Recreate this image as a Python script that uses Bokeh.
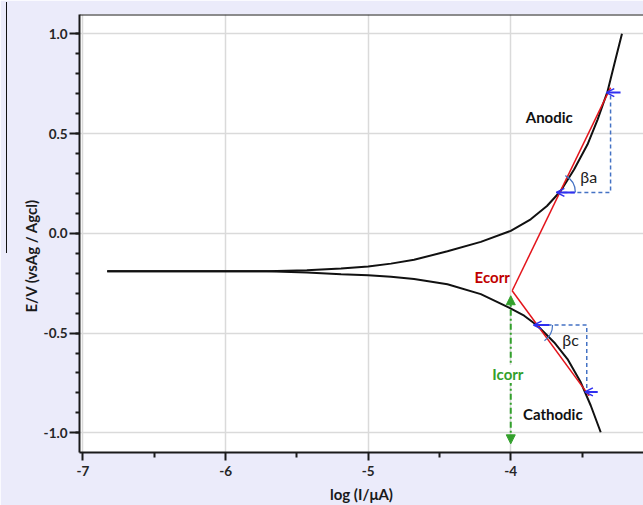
import math
from bokeh.plotting import figure
from bokeh.models import (Range1d, FixedTicker, Span, Label, Arrow, NormalHead,
                          OpenHead, Title, CustomJSTickFormatter, InlineStyleSheet)
from bokeh.embed import file_html
from bokeh.resources import INLINE

# Polarisation curve, E vs log(I)
anodic_logi = [-6.83, -6.25, -5.71, -5.43, -5.19, -5.0, -4.84, -4.678, -4.444, -4.21,
               -4.0, -3.86, -3.746, -3.65, -3.556, -3.462, -3.391, -3.321, -3.266, -3.22]
anodic_e = [-0.19, -0.19, -0.19, -0.185, -0.177, -0.166, -0.152, -0.133, -0.09, -0.043,
            0.012, 0.07, 0.137, 0.212, 0.32, 0.445, 0.57, 0.712, 0.87, 1.0]
cathodic_logi = [-6.83, -6.25, -5.71, -5.43, -5.19, -5.0, -4.84, -4.678, -4.444, -4.21,
                 -4.012, -3.906, -3.812, -3.695, -3.602, -3.509, -3.439, -3.369]
cathodic_e = [-0.19, -0.19, -0.19, -0.197, -0.205, -0.21, -0.218, -0.229, -0.255, -0.305,
              -0.372, -0.413, -0.463, -0.547, -0.63, -0.747, -0.863, -0.997]

# Tafel extrapolation
ecorr = (-3.99, -0.288)
tafel_a_end = (-3.30, 0.73)
tafel_c_end = (-3.45, -0.815)

# Slope construction boxes
beta_a_box = dict(x0=-3.68, x1=-3.30, y0=0.205, y1=0.705)
beta_c_box = dict(x0=-3.84, x1=-3.467, y0=-0.46, y1=-0.795)

icorr_x = -4.0
icorr_y = (-0.313, -1.055)

x_ticks = [-7, -6, -5, -4, -3]
x_minor = [-6.5, -5.5, -4.5, -3.5]
y_ticks = [-1.0, -0.5, 0.0, 0.5, 1.0]
y_minor = [round(-1.0 + 0.1 * i, 1) for i in range(21)]

FONT = "Lato"
BG = "#EBEBFA"
INK = "#1a1a1a"
RED = "#E3141B"
BLUE = "#2F2FF0"
DASHBLUE = "#4472C4"
GREEN = "#33A02C"

# thin dark rule along the page's left edge
edge_rule = InlineStyleSheet(css="""
:host::before {
  content: ""; position: absolute; left: 6px; top: 2px;
  width: 1px; height: 251px; background: #111111; z-index: 10;
}
""")

p = figure(width=643, height=505, output_backend="svg", toolbar_location=None,
           x_range=Range1d(-7.0245, -3.069), y_range=Range1d(-1.0985, 1.0965),
           min_border_left=79, min_border_right=0, min_border_top=14,
           min_border_bottom=52, stylesheets=[edge_rule])
p.border_fill_color = BG
p.background_fill_color = "white"
p.outline_line_color = None

p.xaxis.ticker = FixedTicker(ticks=x_ticks, minor_ticks=x_minor)
p.yaxis.ticker = FixedTicker(ticks=y_ticks, minor_ticks=y_minor)
p.yaxis.formatter = CustomJSTickFormatter(code="return tick.toFixed(1);")
p.xaxis.formatter = CustomJSTickFormatter(code="return tick.toFixed(0);")

for ax in (p.xaxis[0], p.yaxis[0]):
    ax.axis_line_color = INK
    ax.axis_line_width = 2
    ax.major_tick_line_color = INK
    ax.minor_tick_line_color = INK
    ax.major_tick_line_width = 2
    ax.minor_tick_line_width = 2
    ax.major_tick_in = 0
    ax.minor_tick_in = 0
    ax.major_label_text_font = FONT
    ax.major_label_text_font_style = "bold"
    ax.major_label_text_font_size = "13.5px"
    ax.major_label_text_color = "#262626"
    ax.axis_label_text_font = FONT
    ax.axis_label_text_font_style = "bold"
    ax.axis_label_text_font_size = "15px"
    ax.axis_label_text_color = INK

p.xaxis.major_tick_out = 8
p.xaxis.minor_tick_out = 5
p.xaxis.major_label_standoff = 5
p.xaxis.axis_label = "log (I/μA)"
p.xaxis.axis_label_standoff = 6

p.yaxis.major_tick_out = 10
p.yaxis.minor_tick_out = 4
p.yaxis.major_label_standoff = 2
p.yaxis.major_label_text_baseline = "alphabetic"

# y axis title as a side title, anchored from the frame bottom
p.add_layout(Title(text="E/V (vsAg / Agcl)", align="left", offset=140, standoff=1,
                   text_font=FONT, text_font_style="bold", text_font_size="15px",
                   text_color=INK), "left")

p.xgrid.ticker = FixedTicker(ticks=x_ticks)
p.ygrid.ticker = FixedTicker(ticks=y_ticks)
p.grid.grid_line_color = "#DADADA"
p.grid.grid_line_width = 1.5

# top frame edge
p.add_layout(Span(location=1.0965, dimension="width", line_color=INK, line_width=2))

# curves
p.line(anodic_logi, anodic_e, line_color="#111111", line_width=2)
p.line(cathodic_logi, cathodic_e, line_color="#111111", line_width=2)

# Tafel lines
p.line([ecorr[0], tafel_a_end[0]], [ecorr[1], tafel_a_end[1]], line_color=RED, line_width=1.5)
p.line([ecorr[0], tafel_c_end[0]], [ecorr[1], tafel_c_end[1]], line_color=RED, line_width=1.5)

# dashed slope boxes
for b in (beta_a_box, beta_c_box):
    p.line([b["x0"], b["x1"], b["x1"]], [b["y0"], b["y0"], b["y1"]],
           line_color=DASHBLUE, line_width=1.5, line_dash="4 3")

# blue pointer arrows
arrows = [
    (-3.55, beta_a_box["y0"], beta_a_box["x0"], beta_a_box["y0"]),
    (-3.23, beta_a_box["y1"], -3.33, beta_a_box["y1"]),
    (-3.73, beta_c_box["y0"], beta_c_box["x0"], beta_c_box["y0"]),
    (-3.39, beta_c_box["y1"], -3.48, beta_c_box["y1"]),
]
for xs, ys, xe, ye in arrows:
    p.add_layout(Arrow(end=OpenHead(size=8, line_color=BLUE, line_width=1.5),
                       x_start=xs, y_start=ys, x_end=xe, y_end=ye,
                       line_color=BLUE, line_width=2))

# angle arcs
p.arc(x=[beta_a_box["x0"]], y=[beta_a_box["y0"]], radius=19, radius_units="screen",
      start_angle=0, end_angle=math.radians(62), direction="anticlock",
      line_color=DASHBLUE, line_width=1.2)
p.arc(x=[beta_c_box["x0"]], y=[beta_c_box["y0"]], radius=19, radius_units="screen",
      start_angle=math.radians(-55), end_angle=0, direction="anticlock",
      line_color=DASHBLUE, line_width=1.2)

# Icorr double arrow
p.add_layout(Arrow(start=NormalHead(size=9, fill_color=GREEN, line_color=GREEN),
                   end=NormalHead(size=9, fill_color=GREEN, line_color=GREEN),
                   x_start=icorr_x, y_start=icorr_y[0], x_end=icorr_x, y_end=icorr_y[1],
                   line_color=GREEN, line_width=2, line_dash="6 3 2 3"))

def label(x, y, text, color, bold=True, bg=None, size="15px"):
    p.add_layout(Label(x=x, y=y, text=text, text_color=color, text_font=FONT,
                       text_font_size=size, text_font_style="bold" if bold else "normal",
                       text_align="center", text_baseline="middle",
                       background_fill_color=bg))

label(-3.73, 0.585, "Anodic", "#111111")
label(-3.705, -0.905, "Cathodic", "#111111")
label(-4.13, -0.218, "Ecorr", "#C00000")
label(-4.02, -0.705, "Icorr", GREEN, bg="white")
label(-3.453, 0.285, "βa", "#222222", bold=False, size="16px")
label(-3.58, -0.53, "βc", "#222222", bold=False, size="16px")

open("out.html", "w").write(file_html(p, INLINE))
